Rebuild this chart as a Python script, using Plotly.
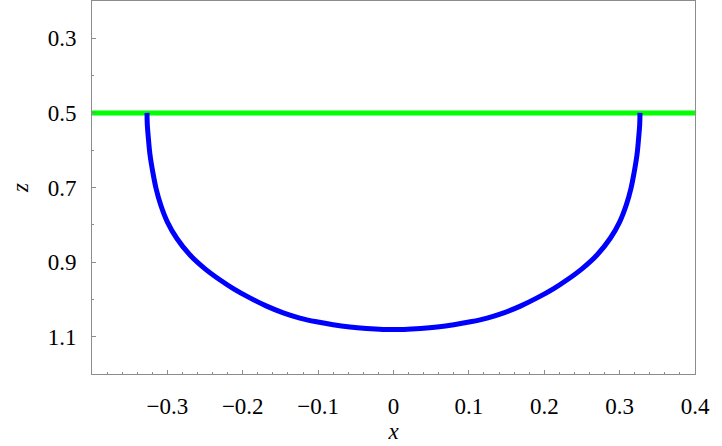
import plotly.graph_objects as go

# Blue curve (x, z)
curve_x = [-0.327, -0.3266, -0.3252, -0.3230, -0.3194, -0.3151, -0.3088, -0.3001, -0.2876, -0.2700,
           -0.2500, -0.2300, -0.2126, -0.1905, -0.1683, -0.1463, -0.1242, -0.1021, -0.0801, -0.0579,
           -0.0358, -0.0138, 0.0,
           0.0138, 0.0358, 0.0579, 0.0801, 0.1021, 0.1242, 0.1463, 0.1683, 0.1905, 0.2126,
           0.2300, 0.2500, 0.2700, 0.2876, 0.3001, 0.3088, 0.3151, 0.3194, 0.3230, 0.3252,
           0.3266, 0.327]
curve_z = [0.500, 0.533, 0.568, 0.613, 0.658, 0.702, 0.747, 0.792, 0.836, 0.881,
           0.918, 0.948, 0.971, 0.996, 1.018, 1.036, 1.050, 1.060, 1.068, 1.074,
           1.078, 1.0805, 1.081,
           1.0805, 1.078, 1.074, 1.068, 1.060, 1.050, 1.036, 1.018, 0.996, 0.971,
           0.948, 0.918, 0.881, 0.836, 0.792, 0.747, 0.702, 0.658, 0.613, 0.568,
           0.533, 0.500]

# Green horizontal line
line_x = [-0.4, 0.4]
line_z = [0.5, 0.5]

x_ticks = [-0.3, -0.2, -0.1, 0, 0.1, 0.2, 0.3, 0.4]
x_labels = ["\u22120.3", "\u22120.2", "\u22120.1", "0", "0.1", "0.2", "0.3", "0.4"]
z_ticks = [0.3, 0.5, 0.7, 0.9, 1.1]
z_labels = ["0.3", "0.5", "0.7", "0.9", "1.1"]

fig = go.Figure()
fig.add_trace(go.Scatter(x=line_x, y=line_z, mode="lines",
                         line=dict(color="#00ff00", width=5), showlegend=False))
fig.add_trace(go.Scatter(x=curve_x, y=curve_z, mode="lines",
                         line=dict(color="#0000ff", width=5, shape="spline", smoothing=1.0),
                         showlegend=False))

serif = "'Liberation Serif', 'Times New Roman', Times, 'DejaVu Serif', serif"
font = dict(family=serif, size=23, color="black")
axis_common = dict(showline=True, mirror=True, linecolor="#8c8c8c", linewidth=1,
                   showgrid=False, zeroline=False, ticks="inside", ticklen=4,
                   tickcolor="#8c8c8c", tickfont=font, automargin=False)

fig.update_xaxes(range=[-0.4, 0.4], tickvals=x_ticks, ticktext=x_labels,
                 minor=dict(dtick=0.02, tick0=0, ticks="inside", ticklen=2, tickcolor="#8c8c8c"),
                 title=dict(text="<i>x</i>", font=font, standoff=2),
                 ticklabelstandoff=11, **axis_common)
fig.update_yaxes(range=[1.2, 0.2], tickvals=z_ticks, ticktext=z_labels,
                 minor=dict(dtick=0.1, tick0=0.2, ticks="inside", ticklen=2, tickcolor="#8c8c8c"),
                 title=dict(text="<i>z</i>", font=font, standoff=12),
                 ticklabelstandoff=10, **axis_common)

fig.update_layout(width=722, height=446, margin=dict(l=92, r=27, t=1, b=72),
                  plot_bgcolor="white", paper_bgcolor="white", font=dict(family=serif))

fig.write_html("out.html", config={"displayModeBar": False},
               post_script="document.body.style.margin='0';document.body.style.overflow='hidden';")
